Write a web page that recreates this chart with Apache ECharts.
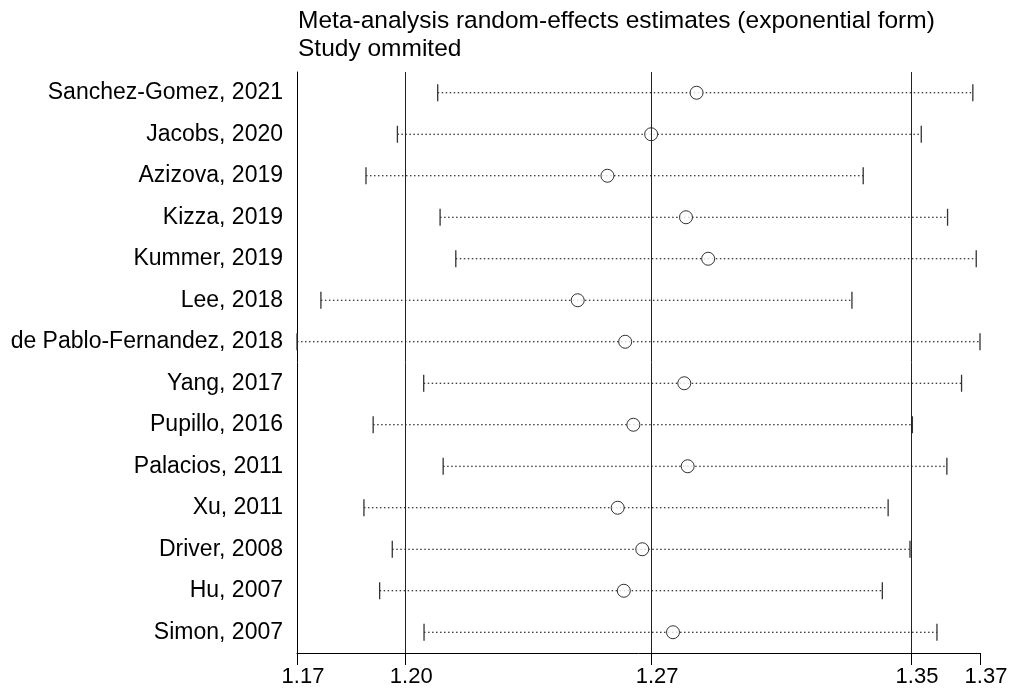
<!DOCTYPE html>
<html>
<head>
<meta charset="utf-8">
<script src="https://cdn.jsdelivr.net/npm/echarts@6/dist/echarts.min.js"></script>
<style>
  html, body { margin: 0; padding: 0; background: #fff; }
  #chart { width: 1014px; height: 693px; }
</style>
</head>
<body>
<div id="chart"></div>
<script>
const studies = [
  'Sanchez-Gomez, 2021', 'Jacobs, 2020', 'Azizova, 2019', 'Kizza, 2019',
  'Kummer, 2019', 'Lee, 2018', 'de Pablo-Fernandez, 2018', 'Yang, 2017',
  'Pupillo, 2016', 'Palacios, 2011', 'Xu, 2011', 'Driver, 2008',
  'Hu, 2007', 'Simon, 2007'
]
const estimate = [1.2870, 1.2737, 1.2609, 1.2839, 1.2904, 1.2522, 1.2661,
  1.2834, 1.2685, 1.2844, 1.2639, 1.2711, 1.2657, 1.2801]
const lower = [1.2112, 1.1994, 1.1902, 1.2119, 1.2165, 1.1770, 1.1700,
  1.2071, 1.1923, 1.2128, 1.1896, 1.1979, 1.1942, 1.2072]
const upper = [1.3679, 1.3528, 1.3358, 1.3605, 1.3689, 1.3325, 1.3700,
  1.3646, 1.3502, 1.3603, 1.3431, 1.3495, 1.3414, 1.3574]
// overall estimate with its lower and upper limits
const refLines = [1.2017, 1.2737, 1.3498]
const axisTicks = [1.17, 1.2017, 1.2737, 1.3498, 1.37]

const font = "'Liberation Sans', Arial, sans-serif"
const chart = echarts.init(document.getElementById('chart'))

const ciData = studies.map((s, i) => [lower[i], upper[i], i])
const estData = studies.map((s, i) => [estimate[i], i])

const option = {
  animation: false,
  backgroundColor: '#fff',
  title: {
    text: 'Meta-analysis random-effects estimates (exponential form)\nStudy ommited',
    left: 298,
    top: 7,
    padding: 0,
    textStyle: { fontFamily: font, fontSize: 24.5, fontWeight: 'normal', color: '#000', lineHeight: 28 }
  },
  grid: { left: 297, right: 34, top: 72, bottom: 40 },
  xAxis: {
    type: 'value',
    min: 1.17,
    max: 1.37,
    axisLine: { show: true, lineStyle: { color: '#000', width: 1 } },
    axisTick: { show: true, length: 12, lineStyle: { color: '#000' }, customValues: axisTicks },
    axisLabel: {
      customValues: axisTicks,
      formatter: v => v.toFixed(2),
      fontFamily: font, fontSize: 22, color: '#000', margin: 13,
      padding: [0, 0, 0, 12]
    },
    splitLine: { show: false }
  },
  yAxis: {
    type: 'category',
    data: studies,
    inverse: true,
    axisLine: { show: true, lineStyle: { color: '#000', width: 1 } },
    axisTick: { show: false },
    axisLabel: { fontFamily: font, fontSize: 23, color: '#000', margin: 14 }
  },
  series: [
    {
      type: 'custom',
      data: ciData,
      encode: { x: [0, 1], y: 2 },
      z: 2,
      renderItem: (params, api) => {
        const lo = api.coord([api.value(0), api.value(2)])
        const hi = api.coord([api.value(1), api.value(2)])
        const h = 8.5
        return {
          type: 'group',
          children: [
            { type: 'line', shape: { x1: lo[0], y1: lo[1], x2: hi[0], y2: hi[1] },
              style: { stroke: '#000', lineWidth: 1.2, lineDash: [1.5, 2.5] } },
            { type: 'line', shape: { x1: lo[0], y1: lo[1] - h, x2: lo[0], y2: lo[1] + h },
              style: { stroke: '#333', lineWidth: 1.3 } },
            { type: 'line', shape: { x1: hi[0], y1: hi[1] - h, x2: hi[0], y2: hi[1] + h },
              style: { stroke: '#333', lineWidth: 1.3 } }
          ]
        }
      }
    },
    {
      type: 'scatter',
      data: estData,
      symbol: 'circle',
      symbolSize: 13,
      z: 3,
      itemStyle: { color: '#fff', borderColor: '#000', borderWidth: 1 },
      markLine: {
        silent: true,
        symbol: 'none',
        precision: 4,
        label: { show: false },
        z: 4,
        lineStyle: { color: '#222', width: 1, type: 'solid' },
        data: refLines.map(v => ({ xAxis: v }))
      }
    }
  ]
}

chart.setOption(option)
</script>
</body>
</html>
